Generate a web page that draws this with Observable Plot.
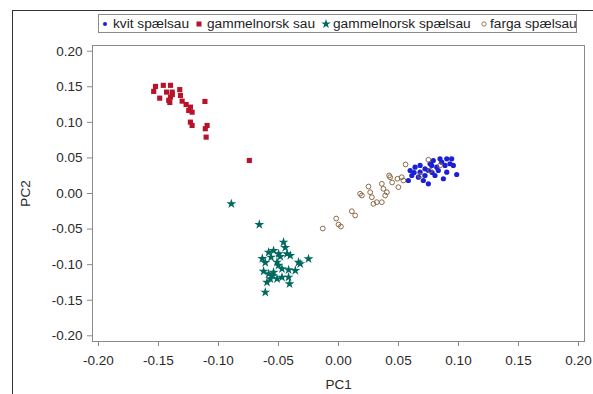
<!DOCTYPE html>
<html>
<head>
<meta charset="utf-8">
<script src="https://cdn.jsdelivr.net/npm/d3@7"></script>
<script src="https://cdn.jsdelivr.net/npm/@observablehq/plot@0.6"></script>
<style>
  html, body { margin: 0; padding: 0; background: #fff; }
  #wrap { position: relative; width: 593px; height: 394px; overflow: hidden; font-family: "Liberation Sans", Arial, sans-serif; }
  #outer { position: absolute; left: 12px; top: 10px; right: -2px; bottom: -2px; border-top: 1px solid #333; border-left: 1px solid #333; }
  #legend { position: absolute; left: 98px; top: 14px; width: 479px; height: 19px; border: 1px solid #8a8a8a; box-sizing: border-box; font-size: 13.7px; color: #222; white-space: nowrap; }
  #legend .it { position: absolute; top: 0px; line-height: 17px; }
  #legend svg { position: absolute; top: 4px; }
  #chart { position: absolute; left: 0; top: 0; }
</style>
</head>
<body>
<div id="wrap">
  <div id="outer"></div>
  <div id="chart"></div>
  <div id="legend"></div>
</div>
<script>
// Series names
const seriesNames = ["kvit spælsau", "gammelnorsk sau", "gammelnorsk spælsau", "farga spælsau"];

// kvit spælsau (blue filled circles)
const kvitPC1 = [0.0597, 0.0638, 0.068, 0.0721, 0.0777, 0.0846, 0.086, 0.0902, 0.0943, 0.0929, 0.0957, 0.0819, 0.0749, 0.068, 0.0611, 0.0666, 0.0707, 0.0582, 0.0749, 0.0874, 0.0902, 0.0985, 0.0804, 0.0763, 0.0832, 0.0721, 0.079, 0.0888, 0.063, 0.078];
const kvitPC2 = [0.0323, 0.037, 0.0394, 0.0347, 0.0394, 0.0488, 0.044, 0.0488, 0.0488, 0.0418, 0.0394, 0.037, 0.0323, 0.030, 0.0253, 0.0229, 0.0183, 0.0183, 0.0136, 0.0207, 0.030, 0.0267, 0.0253, 0.0418, 0.0323, 0.0253, 0.0464, 0.0394, 0.0295, 0.0295];

// gammelnorsk sau (red squares)
const gsPC1 = [-0.1525, -0.146, -0.140, -0.154, -0.1433, -0.1386, -0.1323, -0.149, -0.140, -0.1406, -0.1317, -0.1303, -0.127, -0.1234, -0.1248, -0.122, -0.1113, -0.1234, -0.122, -0.1095, -0.111, -0.1103, -0.0743, -0.1385, -0.1415];
const gsPC2 = [0.1505, 0.152, 0.152, 0.1435, 0.1425, 0.1425, 0.146, 0.134, 0.1354, 0.128, 0.1378, 0.1298, 0.125, 0.1214, 0.1167, 0.1143, 0.1294, 0.1003, 0.0956, 0.0956, 0.091, 0.0792, 0.0464, 0.139, 0.131];

// gammelnorsk spælsau (teal stars)
const gspPC1 = [-0.0893, -0.066, -0.0458, -0.0582, -0.0541, -0.0499, -0.0429, -0.0562, -0.0485, -0.0402, -0.0333, -0.025, -0.0319, -0.0512, -0.0471, -0.0416, -0.036, -0.0624, -0.0582, -0.0541, -0.0568, -0.0512, -0.0596, -0.0471, -0.0416, -0.0408, -0.061, -0.0549, -0.061, -0.0444, -0.050, -0.0635];
const gspPC2 = [-0.0145, -0.0436, -0.0685, -0.0826, -0.0802, -0.0848, -0.0848, -0.0896, -0.0886, -0.0872, -0.0966, -0.0918, -0.0989, -0.0966, -0.1059, -0.1073, -0.1083, -0.1093, -0.1129, -0.1107, -0.120, -0.120, -0.1248, -0.1177, -0.1177, -0.127, -0.1388, -0.1153, -0.097, -0.076, -0.101, -0.0914];

// farga spælsau (brown rings)
const fargaPC1 = [-0.0131, -0.0019, 0.0, 0.002, 0.0111, 0.0139, 0.018, 0.0195, 0.025, 0.0264, 0.0278, 0.0291, 0.0319, 0.0361, 0.0374, 0.0389, 0.0403, 0.0361, 0.043, 0.0491, 0.0527, 0.0541, 0.0499, 0.0559, 0.0749, 0.068, 0.0763, 0.0846, 0.0422, 0.0447];
const fargaPC2 = [-0.0492, -0.0352, -0.0436, -0.0464, -0.0249, -0.0309, -0.0004, -0.0028, 0.0098, 0.0018, -0.0052, -0.0145, -0.0122, 0.0136, 0.0066, -0.0028, 0.0018, -0.0122, 0.0229, 0.0207, 0.0229, 0.0183, 0.0089, 0.0408, 0.0474, 0.0253, 0.0323, 0.0394, 0.0253, 0.0155];

// Axis ticks
const xTicks = [-0.20, -0.15, -0.10, -0.05, 0.00, 0.05, 0.10, 0.15, 0.20];
const yTicks = [-0.20, -0.15, -0.10, -0.05, 0.00, 0.05, 0.10, 0.15, 0.20];

const toRows = (xs, ys) => xs.map((x, i) => ({x, y: ys[i]}));
const kvit = toRows(kvitPC1, kvitPC2);
const gs = toRows(gsPC1, gsPC2);
const gsp = toRows(gspPC1, gspPC2);
const farga = toRows(fargaPC1, fargaPC2);

const cBlue = "#1b1fd6", cRed = "#b8132a", cTeal = "#00695f", cBrown = "#8a6b45";
const fmt = d => d.toFixed(2);

const chart = Plot.plot({
  width: 593,
  height: 394,
  marginLeft: 92,
  marginRight: 9,
  marginTop: 45,
  marginBottom: 53,
  x: {domain: [-0.205, 0.205]},
  y: {domain: [-0.208, 0.208]},
  style: {fontFamily: "'Liberation Sans', Arial, sans-serif", fontSize: "13.5px", color: "#2a2a2a", background: "transparent"},
  marks: [
    Plot.frame({stroke: "#8a8a8a"}),
    Plot.axisX({ticks: xTicks, tickFormat: fmt, tickSize: 5, tickPadding: 9, stroke: "#8a8a8a", label: "PC1", labelAnchor: "center", labelArrow: "none", labelOffset: 47}),
    Plot.axisY({ticks: yTicks, tickFormat: fmt, tickSize: 5, tickPadding: 5, stroke: "#8a8a8a", label: "PC2", labelAnchor: "center", labelArrow: "none", labelOffset: 72}),
    Plot.dot(gs, {x: "x", y: "y", symbol: "square", r: 2.9, fill: cRed, stroke: "none"}),
    Plot.dot(gsp, {x: "x", y: "y", symbol: "star", r: 3.1, fill: cTeal, stroke: "none"}),
    Plot.dot(kvit, {x: "x", y: "y", symbol: "circle", r: 2.6, fill: cBlue, stroke: "none"}),
    Plot.dot(farga, {x: "x", y: "y", symbol: "circle", r: 2.4, fill: "none", stroke: cBrown, strokeWidth: 1})
  ]
});
document.getElementById("chart").appendChild(chart);

// Legend
const legendItems = [
  {name: seriesNames[0], sym: `<circle cx="5" cy="5" r="2" fill="${cBlue}"/>`, sx: 1, tx: 14},
  {name: seriesNames[1], sym: `<rect x="2.5" y="2.5" width="5" height="5" fill="${cRed}"/>`, sx: 95, tx: 108},
  {name: seriesNames[2], sym: `<path transform="translate(5,5)" d="${d3.symbol(d3.symbolStar, 28)()}" fill="${cTeal}"/>`, sx: 222, tx: 234},
  {name: seriesNames[3], sym: `<circle cx="5" cy="5" r="2.2" fill="none" stroke="${cBrown}" stroke-width="0.9"/>`, sx: 380, tx: 391}
];
const leg = document.getElementById("legend");
for (const it of legendItems) {
  const s = document.createElementNS("http://www.w3.org/2000/svg", "svg");
  s.setAttribute("width", 10); s.setAttribute("height", 10);
  s.style.left = it.sx + "px";
  s.innerHTML = it.sym;
  leg.appendChild(s);
  const t = document.createElement("span");
  t.className = "it";
  t.style.left = it.tx + "px";
  t.textContent = it.name;
  leg.appendChild(t);
}
</script>
</body>
</html>
